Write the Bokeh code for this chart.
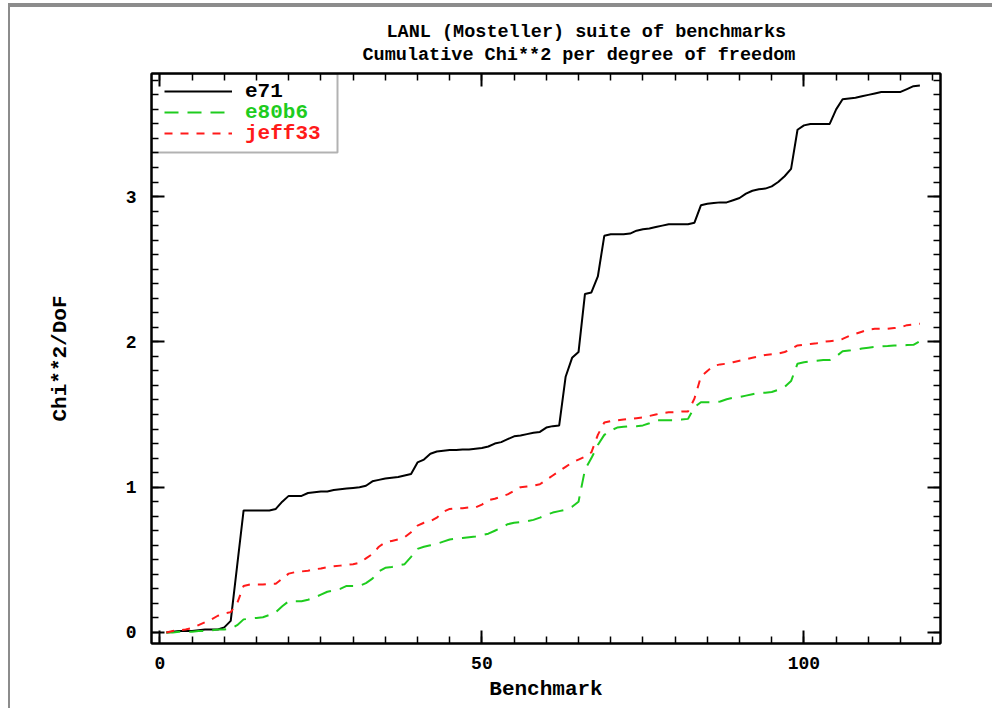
from bokeh.plotting import figure
from bokeh.models import (Range1d, LinearAxis, SingleIntervalTicker, Title, Legend,
                          LegendItem, BoxAnnotation, CustomLabelingPolicy)
from bokeh.embed import file_html
from bokeh.resources import INLINE

# ---------------- data ----------------
benchmark = list(range(1, 119))

e71 = [0.00, 0.005, 0.01, 0.01, 0.01, 0.015, 0.02, 0.02, 0.02, 0.035,
       0.08, 0.46, 0.84, 0.84, 0.84, 0.84, 0.84, 0.85, 0.90, 0.94,
       0.94, 0.94, 0.96, 0.965, 0.97, 0.97, 0.98, 0.985, 0.99, 0.995,
       1.00, 1.01, 1.04, 1.05, 1.06, 1.065, 1.07, 1.08, 1.09, 1.17,
       1.19, 1.23, 1.245, 1.25, 1.255, 1.255, 1.26, 1.26, 1.265, 1.27,
       1.28, 1.30, 1.31, 1.33, 1.35, 1.355, 1.365, 1.375, 1.38, 1.41,
       1.42, 1.425, 1.76, 1.89, 1.93, 2.33, 2.34, 2.45, 2.73, 2.74,
       2.74, 2.74, 2.745, 2.765, 2.775, 2.78, 2.79, 2.80, 2.81, 2.81,
       2.81, 2.81, 2.82, 2.94, 2.95, 2.955, 2.96, 2.96, 2.975, 2.99,
       3.02, 3.04, 3.05, 3.055, 3.07, 3.10, 3.14, 3.19, 3.46, 3.49,
       3.50, 3.50, 3.50, 3.50, 3.60, 3.67, 3.675, 3.68, 3.69, 3.70,
       3.71, 3.72, 3.72, 3.72, 3.72, 3.74, 3.76, 3.765]

e80b6 = [0.00, 0.00, 0.005, 0.005, 0.005, 0.01, 0.01, 0.015, 0.02, 0.02,
         0.025, 0.05, 0.09, 0.095, 0.10, 0.105, 0.12, 0.14, 0.18, 0.215,
         0.215, 0.215, 0.225, 0.24, 0.26, 0.28, 0.29, 0.30, 0.32, 0.32,
         0.32, 0.34, 0.37, 0.42, 0.445, 0.45, 0.46, 0.47, 0.52, 0.575,
         0.59, 0.60, 0.61, 0.625, 0.64, 0.645, 0.65, 0.655, 0.66, 0.67,
         0.68, 0.70, 0.72, 0.745, 0.755, 0.76, 0.765, 0.775, 0.79, 0.81,
         0.825, 0.835, 0.845, 0.865, 0.90, 1.12, 1.20, 1.29, 1.36, 1.39,
         1.41, 1.415, 1.42, 1.42, 1.425, 1.44, 1.46, 1.46, 1.46, 1.46,
         1.465, 1.47, 1.55, 1.585, 1.585, 1.585, 1.59, 1.605, 1.615, 1.62,
         1.63, 1.64, 1.65, 1.65, 1.655, 1.67, 1.69, 1.73, 1.85, 1.86,
         1.865, 1.87, 1.875, 1.875, 1.90, 1.935, 1.94, 1.945, 1.955, 1.96,
         1.965, 1.97, 1.972, 1.975, 1.975, 1.978, 1.98, 2.005]

jeff33 = [0.00, 0.01, 0.015, 0.02, 0.03, 0.05, 0.07, 0.09, 0.115, 0.13,
          0.14, 0.20, 0.32, 0.33, 0.33, 0.33, 0.335, 0.335, 0.37, 0.405,
          0.415, 0.42, 0.425, 0.435, 0.44, 0.45, 0.455, 0.46, 0.465, 0.47,
          0.48, 0.51, 0.54, 0.59, 0.62, 0.63, 0.64, 0.655, 0.69, 0.735,
          0.755, 0.765, 0.79, 0.83, 0.85, 0.855, 0.855, 0.86, 0.86, 0.88,
          0.91, 0.92, 0.935, 0.95, 0.975, 1.00, 1.005, 1.01, 1.02, 1.05,
          1.08, 1.11, 1.14, 1.17, 1.19, 1.21, 1.24, 1.36, 1.445, 1.455,
          1.46, 1.465, 1.47, 1.475, 1.48, 1.49, 1.50, 1.51, 1.515, 1.515,
          1.52, 1.52, 1.61, 1.76, 1.80, 1.835, 1.845, 1.85, 1.86, 1.87,
          1.88, 1.89, 1.90, 1.91, 1.915, 1.92, 1.93, 1.95, 1.975, 1.98,
          1.985, 1.99, 2.00, 2.005, 2.01, 2.02, 2.04, 2.055, 2.07, 2.085,
          2.09, 2.09, 2.09, 2.095, 2.10, 2.115, 2.12, 2.125]

series_names = ["e71", "e80b6", "jeff33"]
title_lines = ["LANL (Mosteller) suite of benchmarks",
               "Cumulative Chi**2 per degree of freedom"]
x_label = "Benchmark"
y_label = "Chi**2/DoF"

# ---------------- styling ----------------
FONT = "Liberation Mono"
BLACK = "#000000"
GREEN = "#1ecc1e"
RED = "#ff1a1a"

FRAME_H = 570  # frame height in px (top 66 .. bottom 636 of canvas)

p = figure(width=984, height=705, output_backend="svg", toolbar_location=None,
           x_range=Range1d(-1.3, 121.2), y_range=Range1d(-0.076, 3.847),
           x_axis_type=None, y_axis_type=None,
           min_border_left=141, min_border_right=54,
           min_border_top=66, min_border_bottom=69,
           background_fill_color="white", border_fill_color="white")
p.outline_line_color = "black"
p.outline_line_width = 2
p.styles = {"margin-left": "8px", "margin-top": "3px",
            "border-top": "4px solid #8c8c8c", "border-left": "2px solid #8c8c8c"}

hide_labels = CustomLabelingPolicy(code="""
    const result = new Set()
    return result
""")


def make_axis(ticker_interval, show_labels, label=None):
    ax = LinearAxis(ticker=SingleIntervalTicker(interval=ticker_interval, num_minor_ticks=10))
    ax.axis_line_color = "black"
    ax.axis_line_width = 2
    ax.major_tick_in = 13
    ax.major_tick_out = 0
    ax.minor_tick_in = 7
    ax.minor_tick_out = 0
    ax.major_tick_line_width = 2
    ax.minor_tick_line_width = 1.5
    ax.major_tick_line_color = "black"
    ax.minor_tick_line_color = "black"
    ax.major_label_text_font = FONT
    ax.major_label_text_font_style = "bold"
    ax.major_label_text_font_size = "18px"
    ax.major_label_text_color = "black"
    if not show_labels:
        ax.major_label_policy = hide_labels
        ax.major_label_standoff = 0
    if label:
        ax.axis_label = label
        ax.axis_label_text_font = FONT
        ax.axis_label_text_font_style = "bold"
        ax.axis_label_text_font_size = "21px"
        ax.axis_label_text_color = "black"
    return ax


xb = make_axis(50, True, x_label)
xb.major_label_standoff = 13
xb.axis_label_standoff = 6
yl = make_axis(1, True, y_label)
yl.major_label_standoff = 15
yl.axis_label_standoff = 51
xt = make_axis(50, False)
yr = make_axis(1, False)

p.add_layout(xb, "below")
p.add_layout(yl, "left")
p.add_layout(xt, "above")
p.add_layout(yr, "right")

r1 = p.line(benchmark, e71, line_color=BLACK, line_width=2)
r2 = p.line(benchmark, e80b6, line_color=GREEN, line_width=2, line_dash="14 9")
r3 = p.line(benchmark, jeff33, line_color=RED, line_width=2, line_dash="8 8")

# two-line title (later added -> further from the plot)
p.add_layout(Title(text=title_lines[1], align="left", offset=211, text_font=FONT,
                   text_font_style="bold", text_font_size="18.5px",
                   text_color="black", standoff=-14), "above")
p.add_layout(Title(text=title_lines[0], align="left", offset=235, text_font=FONT,
                   text_font_style="bold", text_font_size="18.5px",
                   text_color="black", standoff=13), "above")

# legend: one legend per entry so each label keeps its own colour
for i, (name, r, col) in enumerate(zip(series_names, [r1, r2, r3], [BLACK, GREEN, RED])):
    leg = Legend(items=[LegendItem(label=name, renderers=[r])],
                 location=(13, 540 - 21 * i), padding=0, margin=0, spacing=0,
                 glyph_width=68, glyph_height=24, label_height=24, label_standoff=13,
                 label_text_font=FONT, label_text_font_style="bold",
                 label_text_font_size="21px", label_text_color=col,
                 label_text_baseline="middle",
                 border_line_alpha=0, background_fill_alpha=0)
    p.add_layout(leg)

box = BoxAnnotation(left=0, right=186, top=FRAME_H, bottom=491,
                    left_units="screen", right_units="screen",
                    top_units="screen", bottom_units="screen",
                    fill_alpha=0, line_color="black", line_width=2)
p.add_layout(box)

open("out.html", "w").write(file_html(p, INLINE))
